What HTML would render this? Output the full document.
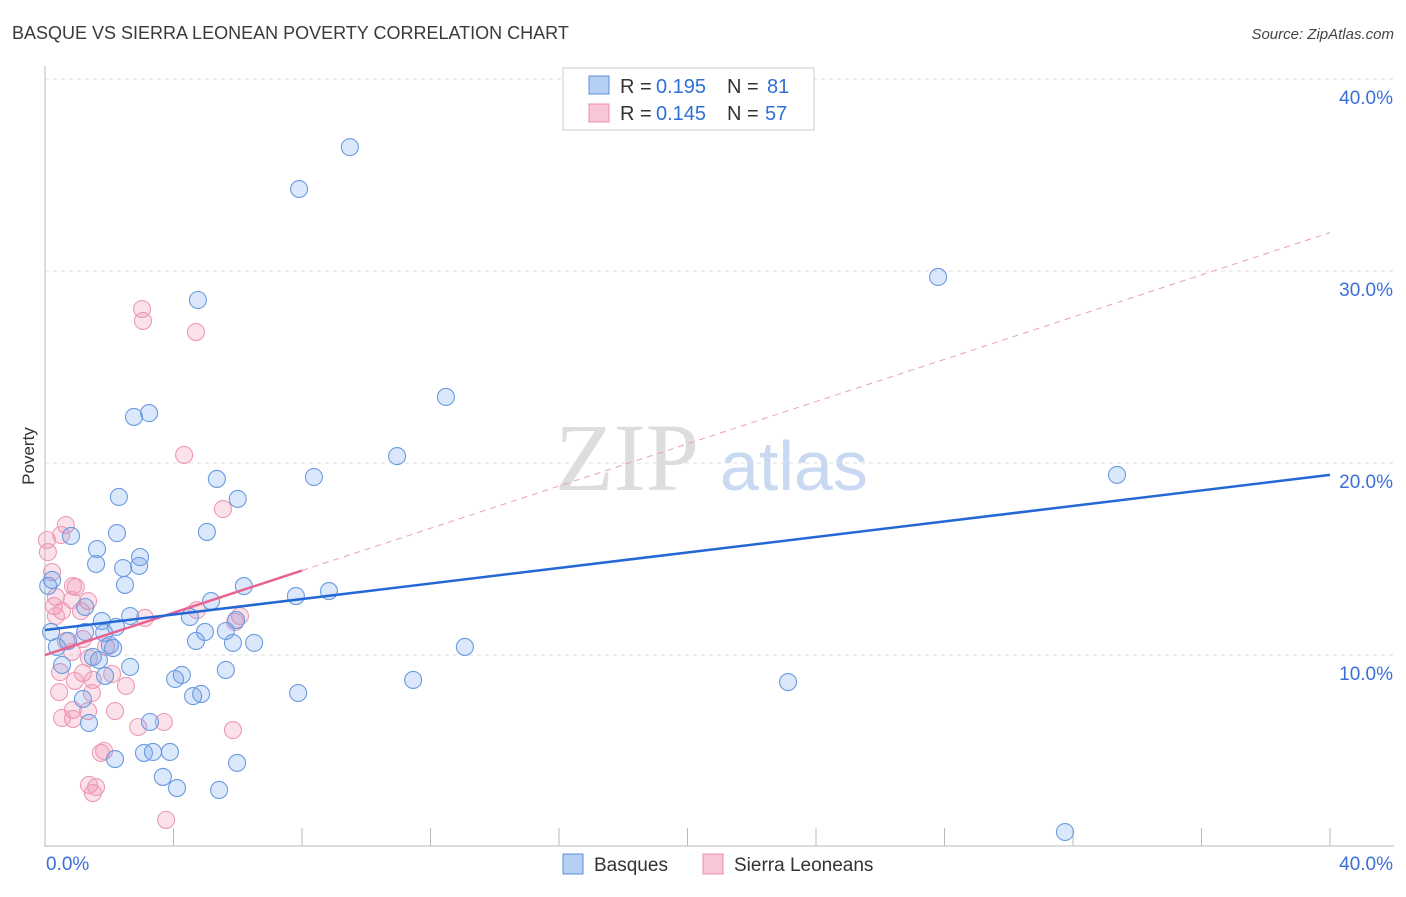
<!DOCTYPE html>
<html><head><meta charset="utf-8"><style>
body{margin:0;background:#fff;font-family:"Liberation Sans",sans-serif}
</style></head><body>
<svg width="1406" height="892" xmlns="http://www.w3.org/2000/svg" id="chart">
<text x="12" y="39" font-size="18" fill="#3a3a3a">BASQUE VS SIERRA LEONEAN POVERTY CORRELATION CHART</text>
<text x="1394" y="39" font-size="15" fill="#444" font-style="italic" text-anchor="end">Source: ZipAtlas.com</text>
<text x="34" y="456" font-size="17" fill="#333" transform="rotate(-90 34 456)" text-anchor="middle">Poverty</text>
<g>
<text x="555" y="490" font-family="Liberation Serif,serif" font-size="96" fill="#ddd">ZIP</text>
<text x="720" y="490" font-size="70" fill="#c9d9f2">atlas</text>
</g>
<g id="grid"></g><g id="axes"></g><g id="pts"></g><g id="lines"></g>
<g>
<rect x="563" y="68" width="251" height="62" fill="#fff" stroke="#ccc"/>
<rect x="589" y="76" width="20" height="18" fill="#b5cff5" stroke="#5b8fd9"/>
<text x="620" y="93" font-size="20" fill="#333">R =</text>
<text x="656" y="93" font-size="20" fill="#2f6fd6">0.195</text>
<text x="727" y="93" font-size="20" fill="#333">N =</text>
<text x="767" y="93" font-size="20" fill="#2f6fd6">81</text>
<rect x="589" y="104" width="20" height="18" fill="#f8c6d6" stroke="#ea8fae"/>
<text x="620" y="120" font-size="20" fill="#333">R =</text>
<text x="656" y="120" font-size="20" fill="#2f6fd6">0.145</text>
<text x="727" y="120" font-size="20" fill="#333">N =</text>
<text x="765" y="120" font-size="20" fill="#2f6fd6">57</text>
</g>
<g>
<rect x="563" y="854" width="20" height="20" fill="#b5cff5" stroke="#5b8fd9"/>
<text x="594" y="871" font-size="19" fill="#333">Basques</text>
<rect x="703" y="854" width="20" height="20" fill="#f8c6d6" stroke="#ea8fae"/>
<text x="734" y="871" font-size="19" fill="#333">Sierra Leoneans</text>
</g>
</svg>
<script>
const blueX=[9.49,7.91,27.8,4.76,12.48,2.77,3.24,10.96,33.37,8.37,5.35,2.3,6.0,5.04,2.24,0.81,1.62,2.96,1.59,2.43,2.93,0.22,2.49,6.19,8.84,7.81,5.17,1.25,2.65,4.51,1.77,5.95,2.21,0.19,1.25,5.63,4.98,1.84,0.72,4.7,5.85,6.51,2.02,0.37,13.07,2.12,1.49,1.68,0.53,2.65,5.63,4.26,4.05,11.46,1.87,23.13,4.86,4.61,7.88,1.18,1.37,3.27,2.18,3.08,3.36,3.89,5.98,3.67,4.11,5.42,31.75,0.1];
const blueY=[36.45,34.27,29.69,28.49,23.44,22.4,22.6,20.36,19.38,19.27,19.17,18.23,18.13,16.41,16.35,16.2,15.52,15.1,14.74,14.53,14.64,13.91,13.65,13.59,13.33,13.07,12.81,12.5,12.03,11.98,11.77,11.82,11.46,11.2,11.2,11.25,11.2,11.15,10.73,10.73,10.63,10.63,10.52,10.42,10.42,10.36,9.9,9.74,9.48,9.38,9.22,8.96,8.75,8.7,8.91,8.59,7.97,7.86,8.02,7.71,6.46,6.51,4.58,4.9,4.95,4.95,4.38,3.65,3.07,2.97,0.78,13.6];
const pinkX=[3.02,3.05,4.7,4.33,5.54,0.65,0.06,0.5,0.09,0.22,0.96,0.87,0.34,0.84,1.34,0.28,0.53,1.12,0.34,3.11,6.07,5.92,0.65,1.18,1.9,0.84,1.37,0.47,1.18,2.09,0.93,1.49,0.44,1.46,2.52,0.87,1.34,2.18,0.53,0.87,2.9,3.7,5.85,1.74,1.84,1.37,1.59,1.49,3.77,4.73];
const pinkY=[28.02,27.4,26.82,20.42,17.6,16.77,15.99,16.25,15.36,14.32,13.54,13.59,13.02,12.86,12.81,12.55,12.29,12.29,12.03,11.93,12.03,11.72,10.73,10.83,10.42,10.16,9.84,9.11,9.06,9.01,8.65,8.7,8.07,8.02,8.39,7.14,7.08,7.08,6.72,6.67,6.25,6.51,6.09,4.9,5.0,3.23,3.12,2.81,1.41,12.34];
const yTicks=[10,20,30,40];
const yTickLabels=["10.0%","20.0%","30.0%","40.0%"];
const blueFit=[11.3,0.202];
const pinkFit=[10.0,0.55];
const NS="http://www.w3.org/2000/svg";
const sx=v=>45+v*32.125, sy=v=>847-v*19.2;
function mk(t,a,p){const e=document.createElementNS(NS,t);for(const k in a)e.setAttribute(k,a[k]);document.getElementById(p).appendChild(e);return e;}
yTicks.forEach((t,i)=>{
 let g=mk('line',{x1:45,x2:1394,y1:sy(t),y2:sy(t),stroke:'#ddd','stroke-dasharray':'4 4'},'grid');
 
 
 let l=mk('text',{x:1393,y:sy(t)+25,'font-size':19,fill:'#3a6fd8','text-anchor':'end'},'grid');
 l.textContent=yTickLabels[i];
 
 
});
let ax=mk('line',{x1:45,x2:45,y1:66,y2:847,stroke:'#bbb'},'axes');


let bx=mk('line',{x1:45,x2:1394,y1:846,y2:846,stroke:'#bbb'},'axes');


for(let i=0;i<=10;i++){let t=mk('line',{x1:sx(i*4),x2:sx(i*4),y1:828,y2:846,stroke:'#bbb'},'axes');
 
 }
let x0=mk('text',{x:46,y:870,'font-size':19,fill:'#3a6fd8'},'axes');x0.textContent='0.0%';


let x1=mk('text',{x:1393,y:870,'font-size':19,fill:'#3a6fd8','text-anchor':'end'},'axes');x1.textContent='40.0%';


pinkX.forEach((x,i)=>{let c=mk('circle',{cx:sx(x),cy:sy(pinkY[i]),r:8.5,fill:'rgba(240,140,170,0.25)',stroke:'#ec9bb6','stroke-width':1.1},'pts');
 
 });
blueX.forEach((x,i)=>{let c=mk('circle',{cx:sx(x),cy:sy(blueY[i]),r:8.5,fill:'rgba(110,160,235,0.25)',stroke:'#6b9be0','stroke-width':1.1},'pts');
 
 });
let pd=mk('line',{x1:sx(8),y1:sy(pinkFit[0]+pinkFit[1]*8),x2:sx(40),y2:sy(pinkFit[0]+pinkFit[1]*40),stroke:'#eaa0b8','stroke-width':1,'stroke-dasharray':'6 5'},'lines');


let ps=mk('line',{x1:sx(0),y1:sy(pinkFit[0]),x2:sx(8),y2:sy(pinkFit[0]+pinkFit[1]*8),stroke:'#e8638f','stroke-width':2.5},'lines');


let bl=mk('line',{x1:sx(0),y1:sy(blueFit[0]),x2:sx(40),y2:sy(blueFit[0]+blueFit[1]*40),stroke:'#2468d6','stroke-width':2.5},'lines');


</script>
</body></html>
